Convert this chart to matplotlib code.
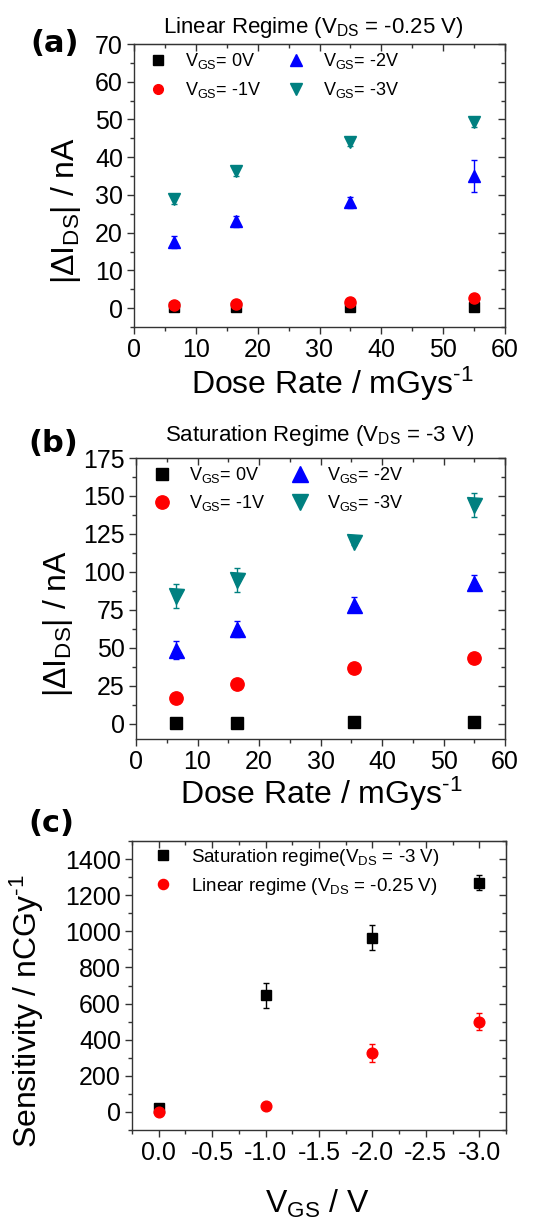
import matplotlib
matplotlib.use("Agg")
import matplotlib.pyplot as plt
from matplotlib.ticker import MultipleLocator, FormatStrFormatter
from matplotlib.lines import Line2D

plt.rcParams['font.family'] = ['Liberation Sans', 'DejaVu Sans']
plt.rcParams['mathtext.fontset'] = 'custom'
plt.rcParams['mathtext.rm'] = 'Liberation Sans'
plt.rcParams['mathtext.it'] = 'Liberation Sans'
plt.rcParams['mathtext.default'] = 'regular'
plt.rcParams['xtick.labelsize'] = 18
plt.rcParams['ytick.labelsize'] = 18

# ---------------- data ----------------
# (a) Linear regime
dose_a = [6.5, 16.5, 35, 55]
lin_v0 = [0.2, 0.2, 0.3, 0.3]
lin_v0_err = [0.2, 0.2, 0.2, 0.2]
lin_v1 = [0.8, 1.0, 1.6, 2.6]
lin_v1_err = [0.4, 0.4, 0.5, 0.5]
lin_v2 = [17.5, 23.0, 28.0, 35.0]
lin_v2_err = [1.5, 1.5, 1.5, 4.2]
lin_v3 = [29.0, 36.3, 44.0, 49.3]
lin_v3_err = [1.3, 1.3, 1.0, 1.2]

# (b) Saturation regime
dose_b = [6.5, 16.5, 35.5, 55]
sat_v0 = [0.5, 0.5, 1.0, 1.0]
sat_v0_err = [0.3, 0.3, 0.3, 0.3]
sat_v1 = [17.0, 26.0, 36.5, 43.5]
sat_v1_err = [1.0, 1.0, 1.0, 1.0]
sat_v2 = [48.5, 62.5, 78.5, 93.0]
sat_v2_err = [6.0, 5.5, 5.0, 5.0]
sat_v3 = [84.0, 94.5, 120.0, 144.0]
sat_v3_err = [8.0, 8.0, 2.0, 8.0]

# (c) Sensitivity
vgs = [0.0, -1.0, -2.0, -3.0]
sens_sat = [20, 645, 965, 1270]
sens_sat_err = [15, 70, 70, 40]
sens_lin = [0, 35, 325, 500]
sens_lin_err = [5, 10, 50, 45]

legend_labels = [r'V$_{GS}$= 0V', r'V$_{GS}$= -1V', r'V$_{GS}$= -2V', r'V$_{GS}$= -3V']
legend_c = [r'Saturation regime(V$_{DS}$ = -3 V)', r'Linear regime (V$_{DS}$ = -0.25 V)']

BLACK = '#000000'
RED = '#FF0000'
BLUE = '#0000FF'
TEAL = '#008080'
AXC = '#333333'

W, H = 547, 1223
fig = plt.figure(figsize=(W / 100, H / 100), dpi=100)


def add_ax(l, r, t, b):
    return fig.add_axes([l / W, 1 - b / H, (r - l) / W, (b - t) / H])


def style(ax, xmaj, xmin, ymaj, ymin):
    ax.xaxis.set_major_locator(MultipleLocator(xmaj))
    ax.xaxis.set_minor_locator(MultipleLocator(xmin))
    ax.yaxis.set_major_locator(MultipleLocator(ymaj))
    ax.yaxis.set_minor_locator(MultipleLocator(ymin))
    ax.tick_params(which='major', direction='out', length=5, width=1, labelsize=18, pad=3, color=AXC)
    ax.tick_params(which='minor', direction='out', length=3, width=1, color=AXC)
    for s in ax.spines.values():
        s.set_linewidth(1.0)
        s.set_color(AXC)
    # mirrored inward ticks on top and right (no labels)
    sx = ax.secondary_xaxis('top')
    sy = ax.secondary_yaxis('right')
    for sa in (sx, sy):
        sa.tick_params(which='major', direction='in', length=5, width=1, color=AXC,
                       labeltop=False, labelright=False)
        sa.tick_params(which='minor', direction='in', length=3, width=1, color=AXC)
        for s in sa.spines.values():
            s.set_color(AXC)
    sx.xaxis.set_major_locator(MultipleLocator(xmaj))
    sx.xaxis.set_minor_locator(MultipleLocator(xmin))
    sy.yaxis.set_major_locator(MultipleLocator(ymaj))
    sy.yaxis.set_minor_locator(MultipleLocator(ymin))


def series(ax, x, y, e, color, marker, ms):
    ax.errorbar(x, y, yerr=e, fmt=marker, color=color, ecolor=color, ms=ms,
                mec=color, mfc=color, elinewidth=1, capsize=2.5, capthick=1,
                linestyle='none')


def proxy(color, marker, ms):
    return Line2D([], [], linestyle='none', marker=marker, color=color, mec=color, mfc=color, ms=ms)


LEG_KW = dict(loc='upper left', frameon=False, fontsize=13, handlelength=1.0,
              handletextpad=1.0, borderaxespad=0.0, borderpad=0.4)

XLAB = r'Dose Rate / mGys$^{\text{-1}}$'
YLAB = r'|$\Delta$I$_{DS}$| / nA'

# ---------------- (a) ----------------
axa = add_ax(134, 505, 44, 327)
series(axa, dose_a, lin_v0, lin_v0_err, BLACK, 's', 7.3)
series(axa, dose_a, lin_v1, lin_v1_err, RED, 'o', 8)
series(axa, dose_a, lin_v2, lin_v2_err, BLUE, '^', 9.2)
series(axa, dose_a, lin_v3, lin_v3_err, TEAL, 'v', 9.2)
axa.set_xlim(0, 60)
axa.set_ylim(-5, 70)
style(axa, 10, 5, 10, 5)
axa.set_xlabel(XLAB, fontsize=23)
axa.xaxis.set_label_coords(0.534, -0.134)
axa.set_ylabel(YLAB, fontsize=23)
axa.yaxis.set_label_coords(-0.1375, 0.41)
handles_a = [proxy(BLACK, 's', 7.5), proxy(RED, 'o', 7), proxy(BLUE, '^', 9), proxy(TEAL, 'v', 9)]
axa.legend(handles_a, legend_labels, ncol=2, bbox_to_anchor=(0.022, 1.0),
           columnspacing=1.4, labelspacing=0.5, **LEG_KW)
fig.text(313 / W, 1 - 27 / H, r'Linear Regime (V$_{DS}$ = -0.25 V)', ha='center', va='center', fontsize=16)
fig.text(30 / W, 1 - 43 / H, '(a)', ha='left', va='center', fontsize=22, fontweight='bold',
         family='DejaVu Sans')

# ---------------- (b) ----------------
axb = add_ax(136, 505, 458, 739)
series(axb, dose_b, sat_v0, sat_v0_err, BLACK, 's', 8.4)
series(axb, dose_b, sat_v1, sat_v1_err, RED, 'o', 9.6)
series(axb, dose_b, sat_v2, sat_v2_err, BLUE, '^', 10.8)
series(axb, dose_b, sat_v3, sat_v3_err, TEAL, 'v', 10.8)
axb.set_xlim(0, 60)
axb.set_ylim(-10, 175)
style(axb, 10, 5, 25, 12.5)
axb.set_xlabel(XLAB, fontsize=23)
axb.xaxis.set_label_coords(0.501, -0.128)
axb.set_ylabel(YLAB, fontsize=23)
axb.yaxis.set_label_coords(-0.165, 0.41)
handles_b = [proxy(BLACK, 's', 8.4), proxy(RED, 'o', 9.6), proxy(BLUE, '^', 11), proxy(TEAL, 'v', 11)]
axb.legend(handles_b, legend_labels, ncol=2, bbox_to_anchor=(0.027, 1.0),
           columnspacing=1.4, labelspacing=0.45, **LEG_KW)
fig.text(320 / W, 1 - 436 / H, r'Saturation Regime (V$_{DS}$ = -3 V)', ha='center', va='center', fontsize=16)
fig.text(28 / W, 1 - 444 / H, '(b)', ha='left', va='center', fontsize=22, fontweight='bold',
         family='DejaVu Sans')

# ---------------- (c) ----------------
axc = add_ax(132, 506, 841, 1130)
axc.errorbar(vgs, sens_sat, yerr=sens_sat_err, fmt='s', color=BLACK, ms=7.3, elinewidth=1,
             capsize=2.5, capthick=1)
axc.errorbar(vgs, sens_lin, yerr=sens_lin_err, fmt='o', color=RED, ms=7.7, elinewidth=1,
             capsize=2.5, capthick=1)
axc.set_xlim(0.25, -3.25)
axc.set_ylim(-100, 1500)
style(axc, 0.5, 0.25, 200, 100)
axc.xaxis.set_major_formatter(FormatStrFormatter('%.1f'))
axc.set_xlabel(r'V$_{GS}$ / V', fontsize=23)
axc.xaxis.set_label_coords(0.495, -0.2)
axc.set_ylabel(r'Sensitivity / nCGy$^{\text{-1}}$', fontsize=23)
axc.yaxis.set_label_coords(-0.23, 0.41)
handles_c = [proxy(BLACK, 's', 7), proxy(RED, 'o', 7.3)]
legc_kw = dict(LEG_KW)
legc_kw['fontsize'] = 13.5
axc.legend(handles_c, legend_c, bbox_to_anchor=(0.037, 1.005), labelspacing=0.4, **legc_kw)
fig.text(28 / W, 1 - 823 / H, '(c)', ha='left', va='center', fontsize=22, fontweight='bold',
         family='DejaVu Sans')

fig.savefig('out.png', dpi=100)
